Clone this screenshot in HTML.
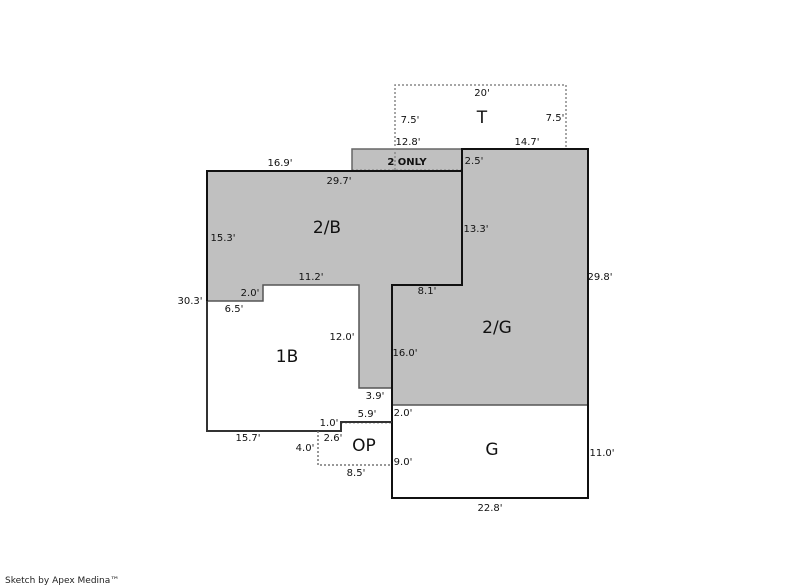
<!DOCTYPE html>
<html><head><style>
html,body{margin:0;padding:0;background:#fff;width:800px;height:587px;overflow:hidden}
svg text{font-family:"DejaVu Sans","Liberation Sans",sans-serif}
</style></head><body>
<svg width="800" height="587" viewBox="0 0 800 587" xmlns="http://www.w3.org/2000/svg">
<!-- fills -->
<rect x="352" y="149" width="110" height="22" fill="#c0c0c0" stroke="#666" stroke-width="1.5"/>
<polygon points="207,171 462,171 462,285 392,285 392,388 359,388 359,285 263,285 263,301 207,301" fill="#c0c0c0"/>
<polygon points="462,149 588,149 588,405 392,405 392,285 462,285" fill="#c0c0c0"/>
<!-- T dotted -->
<polyline points="395,170 395,85 566,85 566,149" fill="none" stroke="#888" stroke-width="1.5" stroke-dasharray="2,2"/>
<line x1="352" y1="170.5" x2="462" y2="170.5" stroke="#444" stroke-width="1.5" stroke-dasharray="2,2"/>
<!-- gray inner lines -->
<polyline points="207,301 263,301 263,285 359,285 359,388 392,388" fill="none" stroke="#555" stroke-width="1.5"/>
<line x1="392" y1="405" x2="588" y2="405" stroke="#555" stroke-width="1.5"/>
<!-- dark outlines -->
<polyline points="207,301 207,171 352,171" fill="none" stroke="#111" stroke-width="2"/>
<polyline points="352,171 462,171 462,149 588,149 588,498 392,498 392,285 462,285 462,171" fill="none" stroke="#111" stroke-width="2"/>
<polyline points="207,301 207,431 341,431 341,422 392,422" fill="none" stroke="#333" stroke-width="2"/>
<!-- OP dotted -->
<polyline points="318,431 318,465 392,465" fill="none" stroke="#777" stroke-width="1.5" stroke-dasharray="2,2"/>
<line x1="341" y1="422.5" x2="392" y2="422.5" stroke="#333" stroke-width="1.5" stroke-dasharray="2,2"/>
<!-- big labels -->
<g font-size="17" fill="#111">
<text x="482" y="123" text-anchor="middle">T</text>
<text x="327" y="233" text-anchor="middle">2/B</text>
<text x="497" y="333" text-anchor="middle">2/G</text>
<text x="287" y="362" text-anchor="middle">1B</text>
<text x="364" y="451" text-anchor="middle">OP</text>
<text x="492" y="455" text-anchor="middle">G</text>
</g>
<text x="407" y="165" text-anchor="middle" font-size="10" font-weight="bold" fill="#111">2 ONLY</text>
<g font-size="10" fill="#111">
<text x="482" y="96" text-anchor="middle">20'</text>
<text x="410" y="123" text-anchor="middle">7.5'</text>
<text x="555" y="121" text-anchor="middle">7.5'</text>
<text x="408" y="145" text-anchor="middle">12.8'</text>
<text x="527" y="145" text-anchor="middle">14.7'</text>
<text x="280" y="166" text-anchor="middle">16.9'</text>
<text x="474" y="164" text-anchor="middle">2.5'</text>
<text x="339" y="184" text-anchor="middle">29.7'</text>
<text x="223" y="241" text-anchor="middle">15.3'</text>
<text x="476" y="232" text-anchor="middle">13.3'</text>
<text x="600" y="280" text-anchor="middle">29.8'</text>
<text x="311" y="280" text-anchor="middle">11.2'</text>
<text x="250" y="296" text-anchor="middle">2.0'</text>
<text x="427" y="294" text-anchor="middle">8.1'</text>
<text x="190" y="304" text-anchor="middle">30.3'</text>
<text x="234" y="312" text-anchor="middle">6.5'</text>
<text x="342" y="340" text-anchor="middle">12.0'</text>
<text x="405" y="356" text-anchor="middle">16.0'</text>
<text x="375" y="399" text-anchor="middle">3.9'</text>
<text x="367" y="417" text-anchor="middle">5.9'</text>
<text x="403" y="416" text-anchor="middle">2.0'</text>
<text x="329" y="426" text-anchor="middle">1.0'</text>
<text x="248" y="441" text-anchor="middle">15.7'</text>
<text x="333" y="441" text-anchor="middle">2.6'</text>
<text x="305" y="451" text-anchor="middle">4.0'</text>
<text x="602" y="456" text-anchor="middle">11.0'</text>
<text x="403" y="465" text-anchor="middle">9.0'</text>
<text x="356" y="476" text-anchor="middle">8.5'</text>
<text x="490" y="511" text-anchor="middle">22.8'</text>
</g>
<text x="5" y="583" font-size="9" fill="#222">Sketch by Apex Medina™</text>
</svg>
</body></html>
